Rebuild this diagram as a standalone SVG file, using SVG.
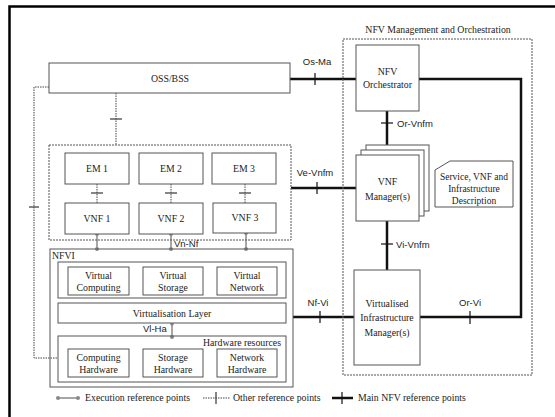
<svg xmlns="http://www.w3.org/2000/svg" width="555" height="417" viewBox="0 0 555 417">
<style>
.bx{fill:#fff;stroke:#555;stroke-width:1}
.grp{fill:none;stroke:#555;stroke-width:1}
.dgrp{fill:none;stroke:#555;stroke-width:1;stroke-dasharray:2,1}
.t{font-family:'Liberation Serif','Times New Roman',Times,serif;font-size:9.8px;fill:#222}
.c{text-anchor:middle}
.e{text-anchor:end}
.sm{font-size:9.5px}
.s{font-family:'Liberation Sans',Arial,sans-serif;font-size:9.5px;fill:#222}
.main{stroke:#111;stroke-width:2.5;fill:none}
.tick{stroke:#111;stroke-width:1.2}
.oth{stroke:#444;stroke-width:1;stroke-dasharray:1.5,1;fill:none}
.othtick{stroke:#444;stroke-width:1.3}
.exe{stroke:#888;stroke-width:1.5}
.dot{fill:#888}
</style>
<rect width="555" height="417" fill="#fff"/>
<path d="M9.5,417 V6.5 H555" fill="none" stroke="#000" stroke-width="2.5"/>

<g id="connectors">
  <path class="oth" d="M49,87 H34 V358 H58" stroke-dasharray="1.5,1.2" stroke-width="1.5"/>
  <line class="othtick" x1="29" y1="207" x2="39" y2="207"/>
  <line class="oth" x1="116" y1="93" x2="116" y2="145"/>
  <line class="othtick" x1="110" y1="119" x2="122" y2="119"/>
  <line class="oth" x1="97" y1="184" x2="97" y2="203"/>
  <line class="othtick" x1="91" y1="193" x2="103" y2="193"/>
  <line class="oth" x1="171" y1="184" x2="171" y2="203"/>
  <line class="othtick" x1="165" y1="193" x2="177" y2="193"/>
  <line class="oth" x1="245" y1="184" x2="245" y2="203"/>
  <line class="othtick" x1="239" y1="193" x2="251" y2="193"/>
  <line class="exe" x1="97" y1="234" x2="97" y2="249"/>
  <circle class="dot" cx="97" cy="234" r="2"/><circle class="dot" cx="97" cy="249" r="2"/>
  <line class="exe" x1="171" y1="234" x2="171" y2="249"/>
  <circle class="dot" cx="171" cy="234" r="2"/><circle class="dot" cx="171" cy="249" r="2"/>
  <line class="exe" x1="246" y1="233" x2="246" y2="249"/>
  <circle class="dot" cx="246" cy="233" r="2"/><circle class="dot" cx="246" cy="249" r="2"/>
  <text class="s" x="174" y="247">Vn-Nf</text>
  <line class="exe" x1="172" y1="324" x2="172" y2="337"/>
  <circle class="dot" cx="172" cy="324" r="1.8"/><circle class="dot" cx="172" cy="337" r="2"/>
  <text class="s" x="143" y="332">Vl-Ha</text>
  <line class="main" x1="290" y1="79" x2="356" y2="79"/>
  <line class="tick" x1="315" y1="73" x2="315" y2="85"/>
  <text class="s c" x="317" y="65">Os-Ma</text>
  <path class="main" d="M419,79 H521 V317 H420"/>
  <line class="tick" x1="470" y1="311" x2="470" y2="324"/>
  <text class="s c" x="470" y="306">Or-Vi</text>
  <line class="main" x1="387" y1="111" x2="387" y2="155"/>
  <line class="tick" x1="381" y1="123" x2="393" y2="123"/>
  <text class="s" x="397" y="127">Or-Vnfm</text>
  <line class="main" x1="291" y1="188" x2="356" y2="188"/>
  <line class="tick" x1="317" y1="182" x2="317" y2="194"/>
  <text class="s c" x="315" y="176">Ve-Vnfm</text>
  <line class="main" x1="387" y1="221" x2="387" y2="270"/>
  <line class="tick" x1="381" y1="244" x2="393" y2="244"/>
  <text class="s" x="396" y="248">Vi-Vnfm</text>
  <line class="main" x1="293" y1="317" x2="354" y2="317"/>
  <line class="tick" x1="320" y1="311" x2="320" y2="323"/>
  <text class="s c" x="318" y="306">Nf-Vi</text>
</g>

<g id="oss-bss">
  <rect class="bx" x="49" y="63" width="241" height="30"/>
  <text class="t c" x="170" y="82">OSS/BSS</text>
</g>

<g id="vnf-group">
  <rect class="dgrp" x="49" y="145" width="242" height="95"/>
</g>
<g id="em1"><rect class="bx" x="65" y="153" width="64" height="31"/><text class="t c" x="97" y="172">EM 1</text></g>
<g id="em2"><rect class="bx" x="139" y="153" width="64" height="31"/><text class="t c" x="171" y="172">EM 2</text></g>
<g id="em3"><rect class="bx" x="212" y="153" width="64" height="31"/><text class="t c" x="244" y="172">EM 3</text></g>
<g id="vnf1"><rect class="bx" x="65" y="203" width="64" height="31"/><text class="t c" x="97" y="222">VNF 1</text></g>
<g id="vnf2"><rect class="bx" x="139" y="203" width="64" height="31"/><text class="t c" x="171" y="222">VNF 2</text></g>
<g id="vnf3"><rect class="bx" x="213" y="203" width="63" height="30"/><text class="t c" x="245" y="221">VNF 3</text></g>

<g id="nfvi">
  <rect class="grp" x="50" y="249" width="243" height="138"/>
  <text class="t" x="52" y="259">NFVI</text>
  <rect class="grp" x="58" y="262" width="228" height="36"/>
</g>
<g id="virtual-computing"><rect class="bx" x="68" y="267" width="61" height="28"/><text class="t c" x="98.5" y="279">Virtual</text><text class="t c" x="98.5" y="291">Computing</text></g>
<g id="virtual-storage"><rect class="bx" x="143" y="267" width="60" height="28"/><text class="t c" x="173" y="279">Virtual</text><text class="t c" x="173" y="291">Storage</text></g>
<g id="virtual-network"><rect class="bx" x="217" y="267" width="60" height="28"/><text class="t c" x="247" y="279">Virtual</text><text class="t c" x="247" y="291">Network</text></g>
<g id="virtualisation-layer"><rect class="bx" x="58" y="303" width="228" height="20"/><text class="t c" x="172" y="317">Virtualisation Layer</text></g>
<g id="hardware-resources">
  <rect class="grp" x="58" y="336" width="228" height="46"/>
  <text class="t e" x="281" y="346">Hardware resources</text>
</g>
<g id="computing-hardware"><rect class="bx" x="68" y="349" width="61" height="28"/><text class="t c" x="98.5" y="361">Computing</text><text class="t c" x="98.5" y="373">Hardware</text></g>
<g id="storage-hardware"><rect class="bx" x="143" y="349" width="60" height="28"/><text class="t c" x="173" y="361">Storage</text><text class="t c" x="173" y="373">Hardware</text></g>
<g id="network-hardware"><rect class="bx" x="217" y="349" width="60" height="28"/><text class="t c" x="247" y="361">Network</text><text class="t c" x="247" y="373">Hardware</text></g>

<g id="mano">
  <rect class="dgrp" x="343" y="39" width="189" height="336"/>
  <text class="t c" x="438" y="33">NFV Management and Orchestration</text>
</g>
<g id="nfv-orchestrator"><rect class="bx" x="356" y="45" width="63" height="66"/><text class="t c" x="387.5" y="75">NFV</text><text class="t c" x="387.5" y="88">Orchestrator</text></g>
<g id="vnf-manager">
  <rect class="bx" x="366" y="145" width="63" height="66"/>
  <rect class="bx" x="361" y="150" width="63" height="66"/>
  <rect class="bx" x="356" y="155" width="63" height="66"/>
  <text class="t c" x="387.5" y="185">VNF</text><text class="t c" x="387.5" y="200">Manager(s)</text>
</g>
<g id="descriptions">
  <path class="bx" d="M450,161 H513 V207 H435 V170 Z"/>
  <text class="t c sm" x="474" y="180">Service, VNF and</text>
  <text class="t c sm" x="474" y="192">Infrastructure</text>
  <text class="t c sm" x="474" y="204">Description</text>
</g>
<g id="vim"><rect class="bx" x="354" y="270" width="66" height="95"/><text class="t c" x="387" y="307">Virtualised</text><text class="t c" x="387" y="321">Infrastructure</text><text class="t c" x="387" y="336">Manager(s)</text></g>

<g id="legend">
  <line class="exe" x1="58" y1="398" x2="78" y2="398"/>
  <circle class="dot" cx="58" cy="398" r="2"/><circle class="dot" cx="78" cy="398" r="2"/>
  <text class="t" x="85" y="401">Execution reference points</text>
  <line class="oth" x1="203" y1="398" x2="230" y2="398"/>
  <line class="othtick" x1="216" y1="392" x2="216" y2="404"/>
  <text class="t" x="233" y="401">Other reference points</text>
  <line class="main" x1="332" y1="398" x2="353" y2="398"/>
  <line class="tick" x1="342" y1="392" x2="342" y2="404"/>
  <text class="t" x="358" y="401">Main NFV reference points</text>
</g>
</svg>
